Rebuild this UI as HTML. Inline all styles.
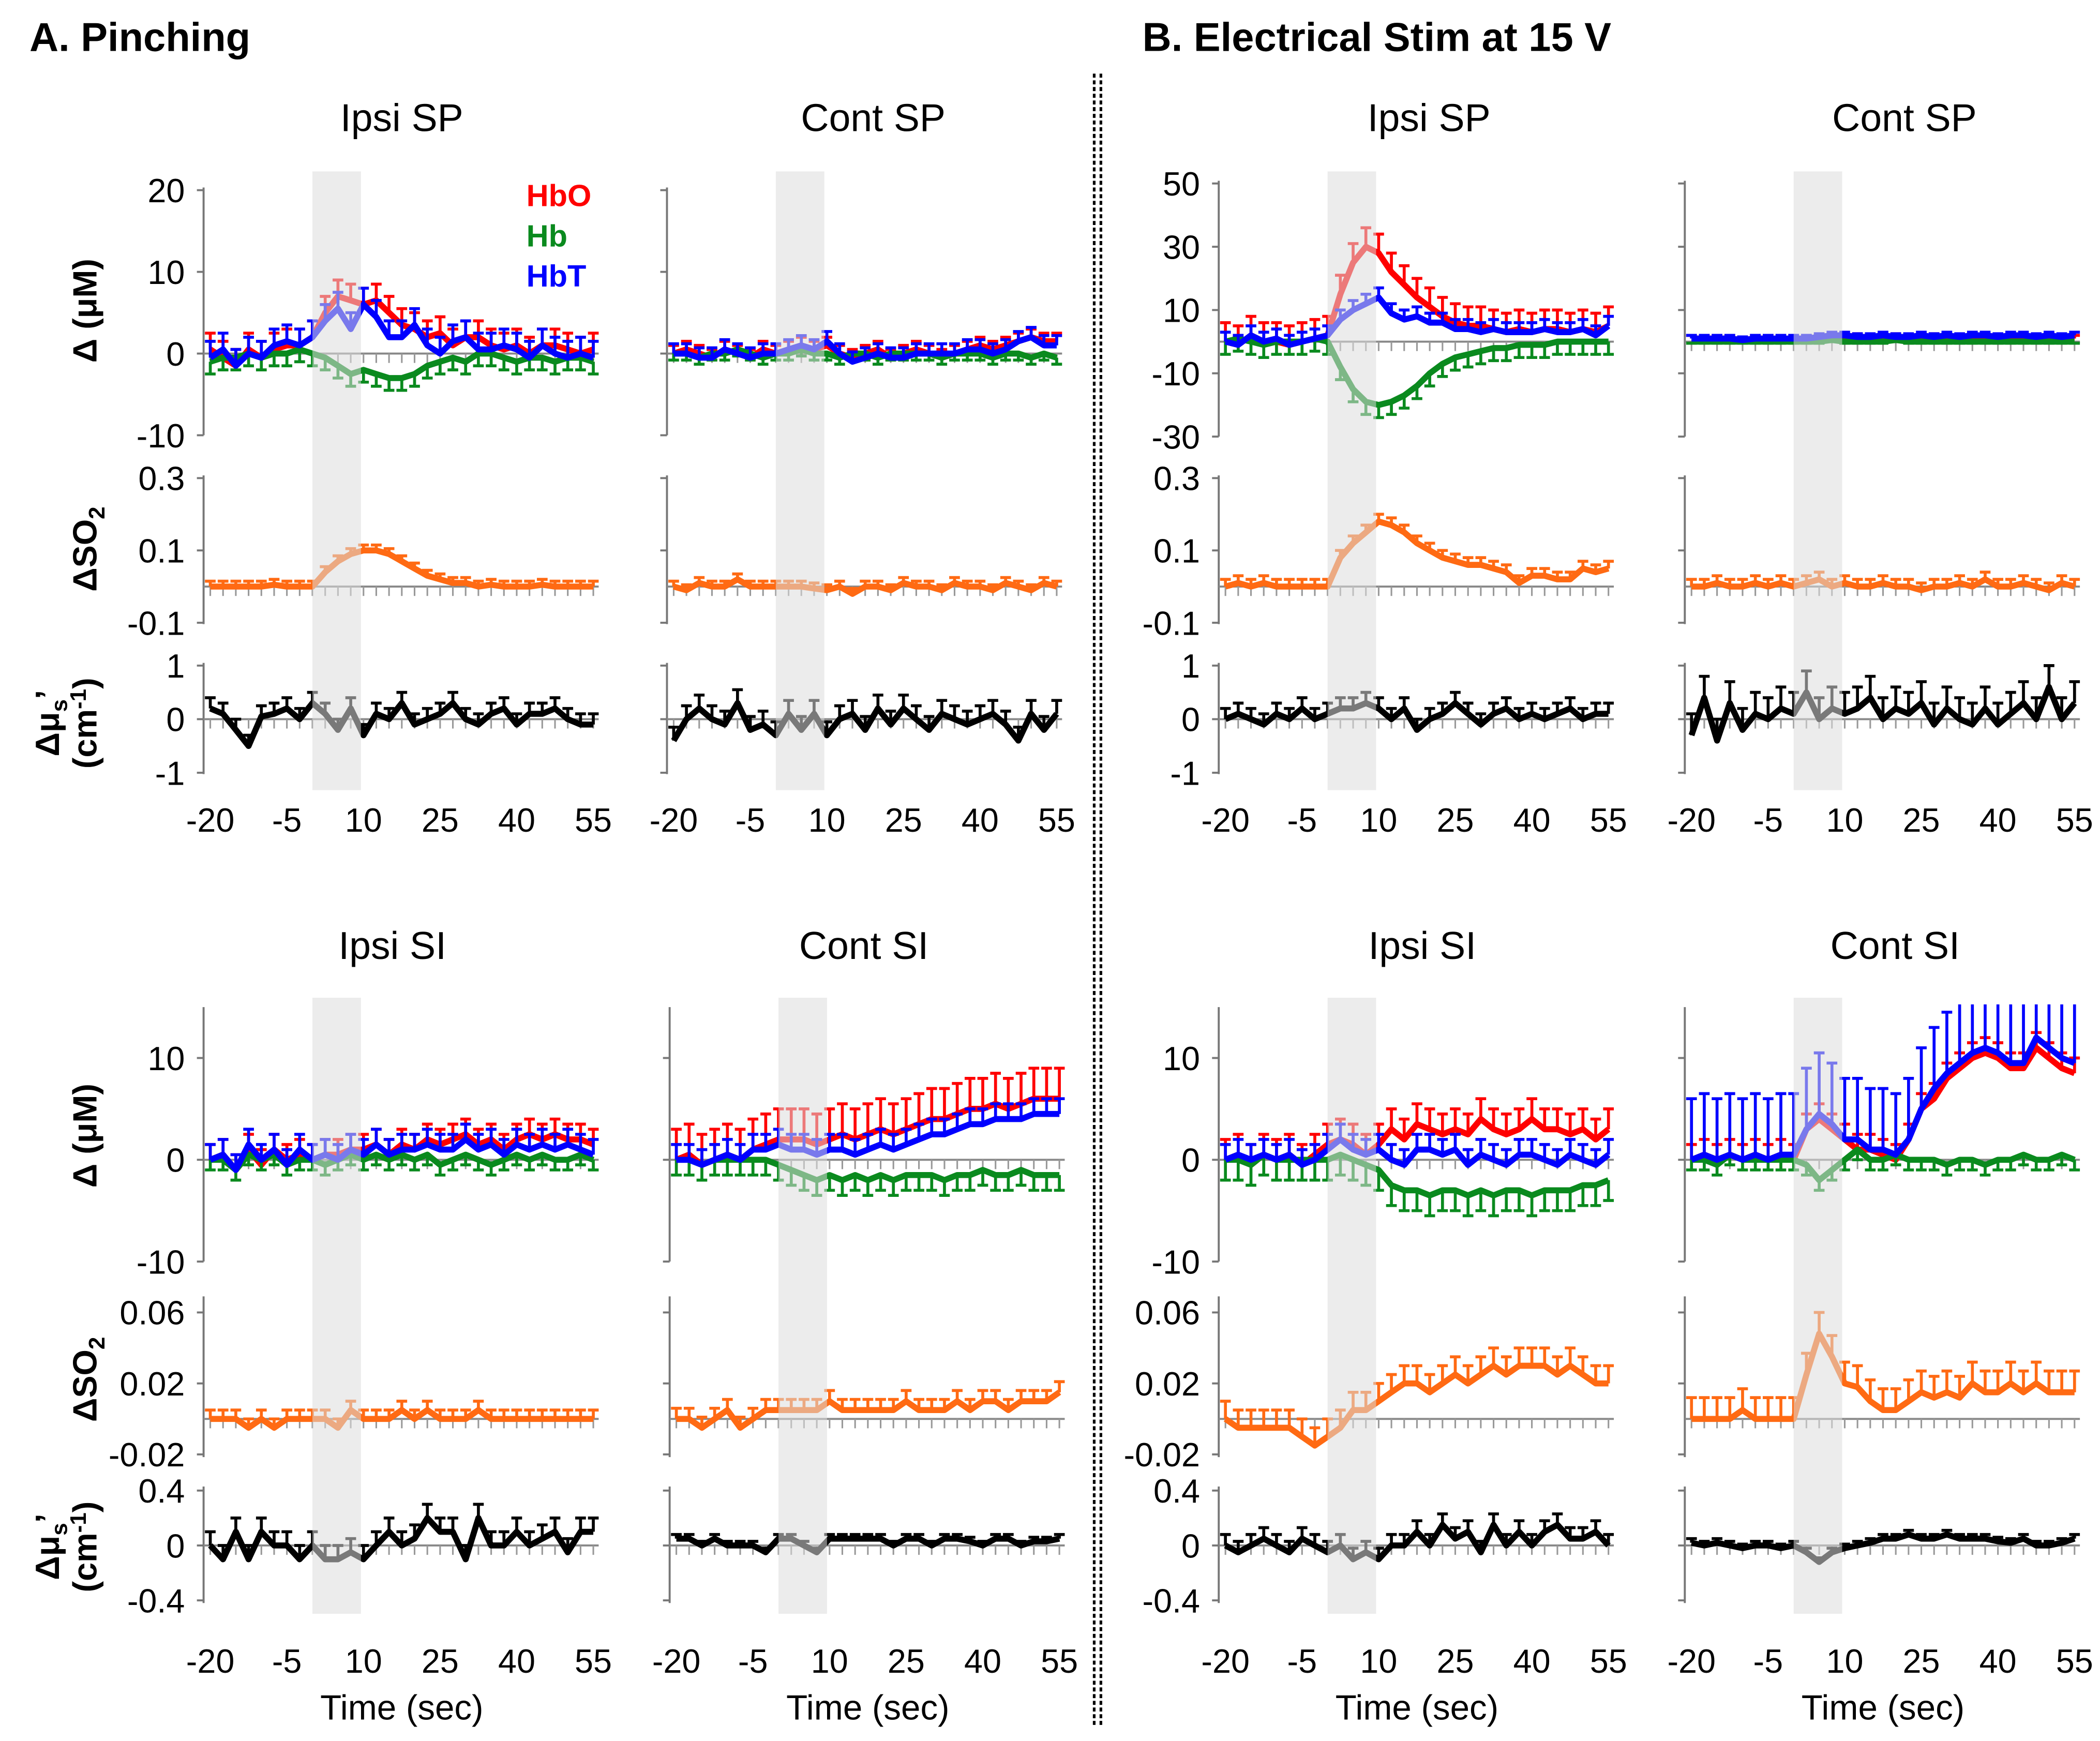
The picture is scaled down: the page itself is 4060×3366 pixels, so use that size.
<!DOCTYPE html>
<html><head><meta charset="utf-8"><style>
html,body{margin:0;padding:0;background:#fff}
svg{display:block;font-family:"Liberation Sans",Arial,sans-serif}
</style></head><body>
<svg id="fig" width="4060" height="3366" viewBox="0 0 1568 1300" xmlns="http://www.w3.org/2000/svg">
<rect width="1568" height="1300" fill="#fff"/>
<text x="22" y="38" font-size="30" font-weight="bold">A. Pinching</text>
<text x="853" y="38" font-size="30" font-weight="bold">B. Electrical Stim at 15 V</text>
<line x1="817" y1="55" x2="817" y2="1290" stroke="#000" stroke-width="2" stroke-dasharray="3,2"/>
<line x1="822" y1="55" x2="822" y2="1290" stroke="#000" stroke-width="2" stroke-dasharray="3,2"/>
<g id="plots"></g>
</svg>
<script>
const timePoints=[-20,-17.5,-15,-12.5,-10,-7.5,-5,-2.5,0,2.5,5,7.5,10,12.5,15,17.5,20,22.5,25,27.5,30,32.5,35,37.5,40,42.5,45,47.5,50,52.5,55];
const xTickLabels=[-20,-5,10,25,40,55];
// A ipsi SP
const aIspHbO=[0.5,-0.5,-1.5,0.5,-0.5,0.5,1,1,2,5,7,6.5,6,6.5,5,3.5,3,2,2.5,1,2,2,1,0.5,1,0,1,1,0.5,0,0.5];
const aIspHb=[-1,-0.5,-0.5,0,-0.5,0,0,0.5,0,-0.5,-1.5,-2.5,-2,-2.5,-3,-3,-2.5,-1.5,-1,-0.5,-1,0,0,-0.5,-1,-0.5,-0.5,-1,-0.5,-0.5,-1];
const aIspHbT=[-0.5,0.5,-1.5,0,-0.5,1,1.5,1,2,4,5.5,3,6,4.5,2,2,3.5,1,0,1.5,2,0.5,0.5,1,0.5,-0.5,1,0,-0.5,0,-0.5];
const aIspSO2=[0,0,0,0,0,0.005,0,0,0,0.04,0.07,0.09,0.1,0.1,0.09,0.07,0.05,0.03,0.02,0.01,0.01,0,0.005,0,0,0,0.005,0,0,0,0];
const aIspMus=[0.2,0.1,-0.2,-0.5,0.05,0.1,0.2,0,0.3,0.1,-0.2,0.2,-0.3,0.1,0,0.3,-0.1,0,0.1,0.3,0,-0.1,0.1,0.2,-0.1,0.1,0.1,0.2,0,-0.1,-0.1];
// A cont SP
const aCspHbO=[0,0.5,0,-0.5,0.5,0,-0.5,0.5,0,0.5,1,0.5,1,0,-0.5,0,0.5,-0.5,0,0.5,0,-0.5,0,0.5,1,0.5,1,1.5,2,1.5,1.5];
const aCspHb=[0,0,-0.5,0,0,0.5,0,-0.5,0,0,0.5,0,0,-0.5,0,0,-0.5,0,0,0,0,-0.5,0,0,0,-0.5,0,0,-0.5,0,-0.5];
const aCspHbT=[0,0,-0.5,-0.5,0.5,0,-0.5,0,0,0.5,1,0.5,1.5,0,-1,-0.5,0,-0.5,-0.5,0,0,0,0,0.5,0.5,0,0.5,1.5,2,1,1];
const aCspSO2=[0,-0.01,0.01,0,0,0.02,0,0,0,0,0,-0.005,-0.01,0,-0.02,0,0,-0.01,0.01,0,0,-0.01,0.01,0,0,-0.01,0.01,0,-0.01,0.01,0];
const aCspMus=[-0.4,0,0.2,0,-0.1,0.3,-0.2,-0.1,-0.3,0.1,-0.2,0.1,-0.3,0,0.1,-0.2,0.2,-0.1,0.2,0,-0.2,0.1,0,-0.1,0,0.1,-0.1,-0.4,0.1,-0.2,0.1];
// B ipsi SP
const bIspHbO=[0,-1,2,0,0,-1,0,1,2,15,25,30,28,22,18,14,11,8,6,5,5,4,3,4,3,4,4,3,4,3,5];
const bIspHb=[0,1,0,-1,0,0,0,1,0,-8,-15,-19,-20,-19,-17,-14,-10,-7,-5,-4,-3,-2,-2,-1,-1,-1,0,0,0,0,0];
const bIspHbT=[0,-1,2,0,1,-1,0,1,2,7,10,12,14,9,7,8,6,6,4,4,3,4,3,3,3,4,3,3,4,2,5];
const bIspSO2=[0,0.01,0,0.01,0,0,0,0,0,0.08,0.12,0.15,0.18,0.17,0.15,0.12,0.1,0.08,0.07,0.06,0.06,0.05,0.04,0.01,0.03,0.03,0.02,0.02,0.05,0.04,0.05];
const bIspMus=[0,0.1,0,-0.1,0.1,0,0.2,0,0.1,0.2,0.2,0.3,0.2,0,0.2,-0.2,0,0.1,0.3,0.1,-0.1,0.1,0.2,0,0.1,0,0.1,0.2,0,0.1,0.1];
// B cont SP
const bCspHbO=[1,1,1,1,0.5,1,1,0.5,1,1,1,1.5,1,1.5,1,1,1.5,1,1,1.5,1,1,1.5,1,1,1.5,1,1,1.5,1,1];
const bCspHb=[0,0,0,0,0,0,0,0,0,0,0,0.5,0,0,0,0,0.5,0,0,0,0,0,0,0,0,0,0,0,0,0,0];
const bCspHbT=[1,1,1,1,0.5,1,1,1,1,1,1.5,2,2,1.5,1.5,2,1.5,1.5,2,1.5,2,1.5,2,2,1.5,2,2,1.5,2,1.5,2];
const bCspSO2=[0,0,0.01,0,0,0.01,0,0.01,0,0.01,0.02,0,0.01,0,0,0.01,0,0,-0.01,0,0,0.01,0,0.02,0,0,0.01,0,-0.01,0.01,0];
const bCspMus=[-0.3,0.4,-0.4,0.3,-0.2,0.1,0,0.2,0.1,0.5,0,0.2,0.1,0.2,0.4,0,0.2,0.1,0.3,-0.1,0.2,0,-0.1,0.2,-0.1,0.1,0.3,0,0.6,0,0.3];
// A ipsi SI
const aIsiHbO=[0,0.5,-1,1,-0.5,1,0,0.5,0,0.5,0.5,1,1,1.5,0.5,1.5,1,2,1.5,2,2.5,1.5,2,1,2,2.5,2,2.5,2,2,1.5];
const aIsiHb=[0,0,-1,0.5,0,0.5,-0.5,0,0,-0.5,0,0.5,0,0.5,0,0.5,0,0.5,-0.5,0,0.5,0,-0.5,0,0.5,0,0.5,0,0,0.5,0];
const aIsiHbT=[0,0.5,-1,1.5,0,1,-0.5,1,0,0.5,0,1,0.5,1.5,0.5,1,1,1.5,1,1,2,1,1.5,0.5,1.5,1,1.5,1,1.5,1,0.5];
const aIsiSO2=[0,0,0,-0.005,0,-0.005,0,0,0,0,-0.005,0.005,0,0,0,0.005,0,0.005,0,0,0,0.005,0,0,0,0,0,0,0,0,0];
const aIsiMus=[0,-0.1,0.1,-0.1,0.1,0,0,-0.1,0,-0.1,-0.1,-0.05,-0.1,0,0.1,0,0.05,0.2,0.1,0.1,-0.1,0.2,0,0,0.1,0,0.05,0.1,-0.05,0.1,0.1];
// A cont SI
const aCsiHbO=[0,0.5,-0.5,0,0.5,0,1,1.5,2,2,2,1.5,2,2.5,2,2.5,3,2.5,3,3.5,4,4,4.5,5,5,5.5,5,5.5,6,6,6];
const aCsiHb=[0,0,-0.5,0,0,0,0,0,-0.5,-1,-1.5,-2,-1.5,-2,-1.5,-2,-1.5,-2,-1.5,-1.5,-1.5,-2,-1.5,-1.5,-1,-1.5,-1.5,-1,-1.5,-1.5,-1.5];
const aCsiHbT=[0,0,-0.5,0,0.5,0,1,1,1.5,1,1,0.5,1,1,0.5,1,1.5,1,1.5,2,2.5,2.5,3,3.5,3.5,4,4,4,4.5,4.5,4.5];
const aCsiSO2=[0,0,-0.005,0,0.005,-0.005,0,0.005,0.005,0.005,0.005,0.005,0.01,0.005,0.005,0.005,0.005,0.005,0.01,0.005,0.005,0.005,0.01,0.005,0.01,0.01,0.005,0.01,0.01,0.01,0.015];
const aCsiMus=[0.05,0.05,0,0.05,0,0,0,-0.05,0.05,0.05,0,-0.05,0.05,0.05,0.05,0.05,0.05,0,0.05,0.05,0,0.05,0.05,0.03,0,0.05,0.05,0,0.03,0.03,0.05];
// B ipsi SI
const bIsiHbO=[0,0.5,-0.5,0.5,0,0.5,-0.5,0.5,1.5,2,1.5,0.5,1.5,3,2,3.5,3,2.5,3,2.5,4,3,2.5,3,4,3,3,2.5,3,2,3];
const bIsiHb=[0,0,-0.5,0.5,0,0,0,0,0,0.5,0,-0.5,-1,-2.5,-3,-3,-3.5,-3,-3,-3.5,-3,-3.5,-3,-3,-3.5,-3,-3,-3,-2.5,-2.5,-2];
const bIsiHbT=[0,0.5,0,0.5,0,0.5,-0.5,0,1,2,1,0.5,1,0,-0.5,1,1,0.5,1,-0.5,0.5,0,-0.5,0.5,0.5,0,-0.5,0.5,0,-0.5,0.5];
const bIsiSO2=[0,-0.005,-0.005,-0.005,-0.005,-0.005,-0.01,-0.015,-0.01,-0.005,0.005,0.005,0.01,0.015,0.02,0.02,0.015,0.02,0.025,0.02,0.025,0.03,0.025,0.03,0.03,0.03,0.025,0.03,0.025,0.02,0.02];
const bIsiMus=[0,-0.05,0,0.05,0,-0.05,0.05,0,-0.05,0,-0.1,-0.05,-0.1,0,0,0.1,0,0.15,0.05,0.1,-0.05,0.15,0,0.1,0,0.1,0.15,0.05,0.05,0.1,0];
// B cont SI
const bCsiHbO=[0,0.5,0,0.5,0,0.5,0,0.5,0,3,4,3,2,1,1,0.5,0,2,5,6,8,9,10,10.5,10,9,9,11,10,9,8.5];
const bCsiHb=[0,0,-0.5,0.5,0,0,0,0,0,-0.5,-2,-1,0,1,0,0,0.5,0,0,0,-0.5,0,0,-0.5,0,0,0.5,0,0,0.5,0];
const bCsiHbT=[0,0.5,0,0.5,0,0.5,0,0.5,0.5,3,4.5,3.5,2,2,1,1,0.5,2,5,7,8.5,9.5,10.5,11,10.5,9.5,9.5,12,11,10,9.5];
const bCsiSO2=[0,0,0,0,0.005,0,0,0,0,0.025,0.048,0.035,0.02,0.018,0.01,0.005,0.005,0.01,0.015,0.012,0.015,0.012,0.02,0.015,0.015,0.02,0.015,0.02,0.015,0.015,0.015];
const bCsiMus=[0.02,0,0.02,0,-0.02,0,0,-0.02,0,-0.05,-0.12,-0.05,-0.02,0,0.02,0.05,0.05,0.08,0.05,0.05,0.08,0.05,0.05,0.05,0.03,0.02,0.05,0,0,0.02,0.05];

const C={HbO:'#ff0000',Hb:'#0a8a1e',HbT:'#0000ff',SO2:'#ff6a13',Mus:'#000'};
const NS='http://www.w3.org/2000/svg';
const G=document.getElementById('plots');
function mk(tag,attrs,parent){const e=document.createElementNS(NS,tag);for(const k in attrs)e.setAttribute(k,attrs[k]);(parent||G).appendChild(e);return e;}

const rowsTop=[
 {vmin:-10,py0:325,vmax:20,py1:142,top:140,bot:325,ticks:[20,10,0,-10]},
 {vmin:-0.1,py0:465,vmax:0.3,py1:357,top:355,bot:466,ticks:[0.3,0.1,-0.1]},
 {vmin:-1,py0:577,vmax:1,py1:497,top:495,bot:578,ticks:[1,0,-1]}];
const rowsTopB=[{vmin:-30,py0:326,vmax:50,py1:137,top:135,bot:326,ticks:[50,30,10,-10,-30]},rowsTop[1],rowsTop[2]];
const rowsBot=[
 {vmin:-10,py0:942,vmax:10,py1:790,top:752,bot:942,ticks:[10,0,-10]},
 {vmin:-0.02,py0:1086,vmax:0.06,py1:980,top:968,bot:1088,ticks:[0.06,0.02,-0.02]},
 {vmin:-0.4,py0:1195,vmax:0.4,py1:1113,top:1110,bot:1197,ticks:[0.4,0,-0.4]}];

const panels=[
 {id:'a-ipsi-sp',title:'Ipsi SP',tx:300,ty:98,ax:152,rows:rowsTop,labels:true,shTop:128,shBot:590,xl:612,data:[[aIspHbO,aIspHb,aIspHbT],[aIspSO2],[aIspMus]],err:[[2,1.5,2],[0.015],[0.2]]},
 {id:'a-cont-sp',title:'Cont SP',tx:652,ty:98,ax:498,rows:rowsTop,labels:false,shTop:128,shBot:590,xl:612,data:[[aCspHbO,aCspHb,aCspHbT],[aCspSO2],[aCspMus]],err:[[1,0.8,1.2],[0.015],[0.25]]},
 {id:'b-ipsi-sp',title:'Ipsi SP',tx:1067,ty:98,ax:910,rows:rowsTopB,labels:true,shTop:128,shBot:590,xl:612,data:[[bIspHbO,bIspHb,bIspHbT],[bIspSO2],[bIspMus]],err:[[6,4,3],[0.02],[0.2]]},
 {id:'b-cont-sp',title:'Cont SP',tx:1422,ty:98,ax:1258,rows:rowsTopB,labels:false,shTop:128,shBot:590,xl:612,data:[[bCspHbO,bCspHb,bCspHbT],[bCspSO2],[bCspMus]],err:[[1,0.5,1],[0.02],[0.4]]},
 {id:'a-ipsi-si',title:'Ipsi SI',tx:293,ty:716,ax:152,rows:rowsBot,labels:true,shTop:745,shBot:1205,xl:1240,data:[[aIsiHbO,aIsiHb,aIsiHbT],[aIsiSO2],[aIsiMus]],err:[[1.5,1,1.5],[0.005],[0.1]]},
 {id:'a-cont-si',title:'Cont SI',tx:645,ty:716,ax:500,rows:rowsBot,labels:false,shTop:745,shBot:1205,xl:1240,data:[[aCsiHbO,aCsiHb,aCsiHbT],[aCsiSO2],[aCsiMus]],err:[[3,1.5,1.5],[0.006],[0.03]]},
 {id:'b-ipsi-si',title:'Ipsi SI',tx:1062,ty:716,ax:910,rows:rowsBot,labels:true,shTop:745,shBot:1205,xl:1240,data:[[bIsiHbO,bIsiHb,bIsiHbT],[bIsiSO2],[bIsiMus]],err:[[2,2,1.5],[0.01],[0.08]]},
 {id:'b-cont-si',title:'Cont SI',tx:1415,ty:716,ax:1258,rows:rowsBot,labels:false,shTop:745,shBot:1205,xl:1240,data:[[bCsiHbO,bCsiHb,bCsiHbT],[bCsiSO2],[bCsiMus]],err:[[1.5,1,6],[0.012],[0.03]]}
];
const seriesNames=[['HbO','Hb','HbT'],['SO2'],['Mus']];

panels.forEach(p=>{
  const g=mk('g',{});
  
  
  const xs=t=>p.ax+5+(t+20)/75*286;
  const t=mk('text',{x:p.tx,y:p.ty,'font-size':29,'text-anchor':'middle'},g);t.textContent=p.title;
  
  
  p.rows.forEach((r,ri)=>{
    const ys=v=>r.py0+(v-r.vmin)/(r.vmax-r.vmin)*(r.py1-r.py0);
    const clipId='clip-'+p.id+'-'+ri;
    const cp=mk('clipPath',{id:clipId},g);mk('rect',{x:p.ax-5,y:r.top-2,width:310,height:r.bot-r.top+4},cp);
    const axl=mk('line',{x1:p.ax,y1:r.top,x2:p.ax,y2:r.bot,stroke:'#777','stroke-width':1.5},g);
    
    
    r.ticks.forEach(v=>{
      mk('line',{x1:p.ax-5,y1:ys(v),x2:p.ax,y2:ys(v),stroke:'#777','stroke-width':1.5},g);
      if(p.labels){const tl=mk('text',{x:p.ax-14,y:ys(v)+9,'font-size':25,'text-anchor':'end'},g);tl.textContent=String(v);
        
        }
    });
    const y0=ys(0);
    mk('line',{x1:p.ax,y1:y0,x2:xs(55)+4,y2:y0,stroke:'#888','stroke-width':1.5},g);
    for(let tt=-20;tt<=55;tt+=2.5){mk('line',{x1:xs(tt),y1:y0,x2:xs(tt),y2:y0+7,stroke:'#999','stroke-width':1.2},g);}
    const sg=mk('g',{'clip-path':'url(#'+clipId+')'},g);
    p.data[ri].forEach((arr,si)=>{
      const name=seriesNames[ri][si];const col=C[name];
      const dir=(name==='Hb')?-1:1;
      const e=p.err[ri][si];
      arr.forEach((v,i)=>{
        const x=xs(timePoints[i]),y=ys(v),y2=ys(v+dir*e);
        const eb=mk('path',{d:`M${x},${y}V${y2}M${x-4},${y2}H${x+4}`,stroke:col,'stroke-width':2.2,fill:'none'},sg);
        
        
      });
      const d=arr.map((v,i)=>(i?'L':'M')+xs(timePoints[i]).toFixed(1)+','+ys(v).toFixed(1)).join('');
      const ln=mk('path',{d:d,stroke:col,'stroke-width':4.5,fill:'none','stroke-linejoin':'round'},sg);
      
      
    });
  });
  const sh=mk('rect',{x:xs(0),y:p.shTop,width:xs(9.5)-xs(0),height:p.shBot-p.shTop,fill:'#dcdcdc','fill-opacity':0.55},g);
  
  
  xTickLabels.forEach(v=>{const tl=mk('text',{x:xs(v),y:p.xl+9,'font-size':25,'text-anchor':'middle'},g);tl.textContent=v;
    
    });
  if(p.xl>1000){const xt=mk('text',{x:xs(17.5),y:1284,'font-size':26,'text-anchor':'middle'},g);xt.textContent='Time (sec)';
    
    }
});
[['HbO',C.HbO,154],['Hb',C.Hb,184],['HbT',C.HbT,214]].forEach(l=>{
  const t=mk('text',{x:393,y:l[2],'font-size':23,'font-weight':'bold',fill:l[1]});t.textContent=l[0];
  
  
});
function ylab(x,y,html,name){const t=mk('text',{x:0,y:0,'font-size':25,'font-weight':'bold','text-anchor':'middle',transform:`translate(${x},${y}) rotate(-90)`});t.innerHTML=html;
  
  }
[[232,410,540],[848,1030,1155]].forEach((ys,k)=>{
  ylab(72,ys[0],'Δ (μM)','y-title-delta-'+k);
  ylab(72,ys[1],'ΔSO<tspan font-size="17" dy="6">2</tspan>','y-title-so2-'+k);
  ylab(44,ys[2],'Δμ<tspan font-size="17" dy="6">s</tspan><tspan dy="-6">’</tspan>','y-title-mus-'+k);
  ylab(72,ys[2],'(cm<tspan font-size="17" dy="-8">-1</tspan><tspan dy="8">)</tspan>','y-title-mus-unit-'+k);
});
</script>
</body></html>
